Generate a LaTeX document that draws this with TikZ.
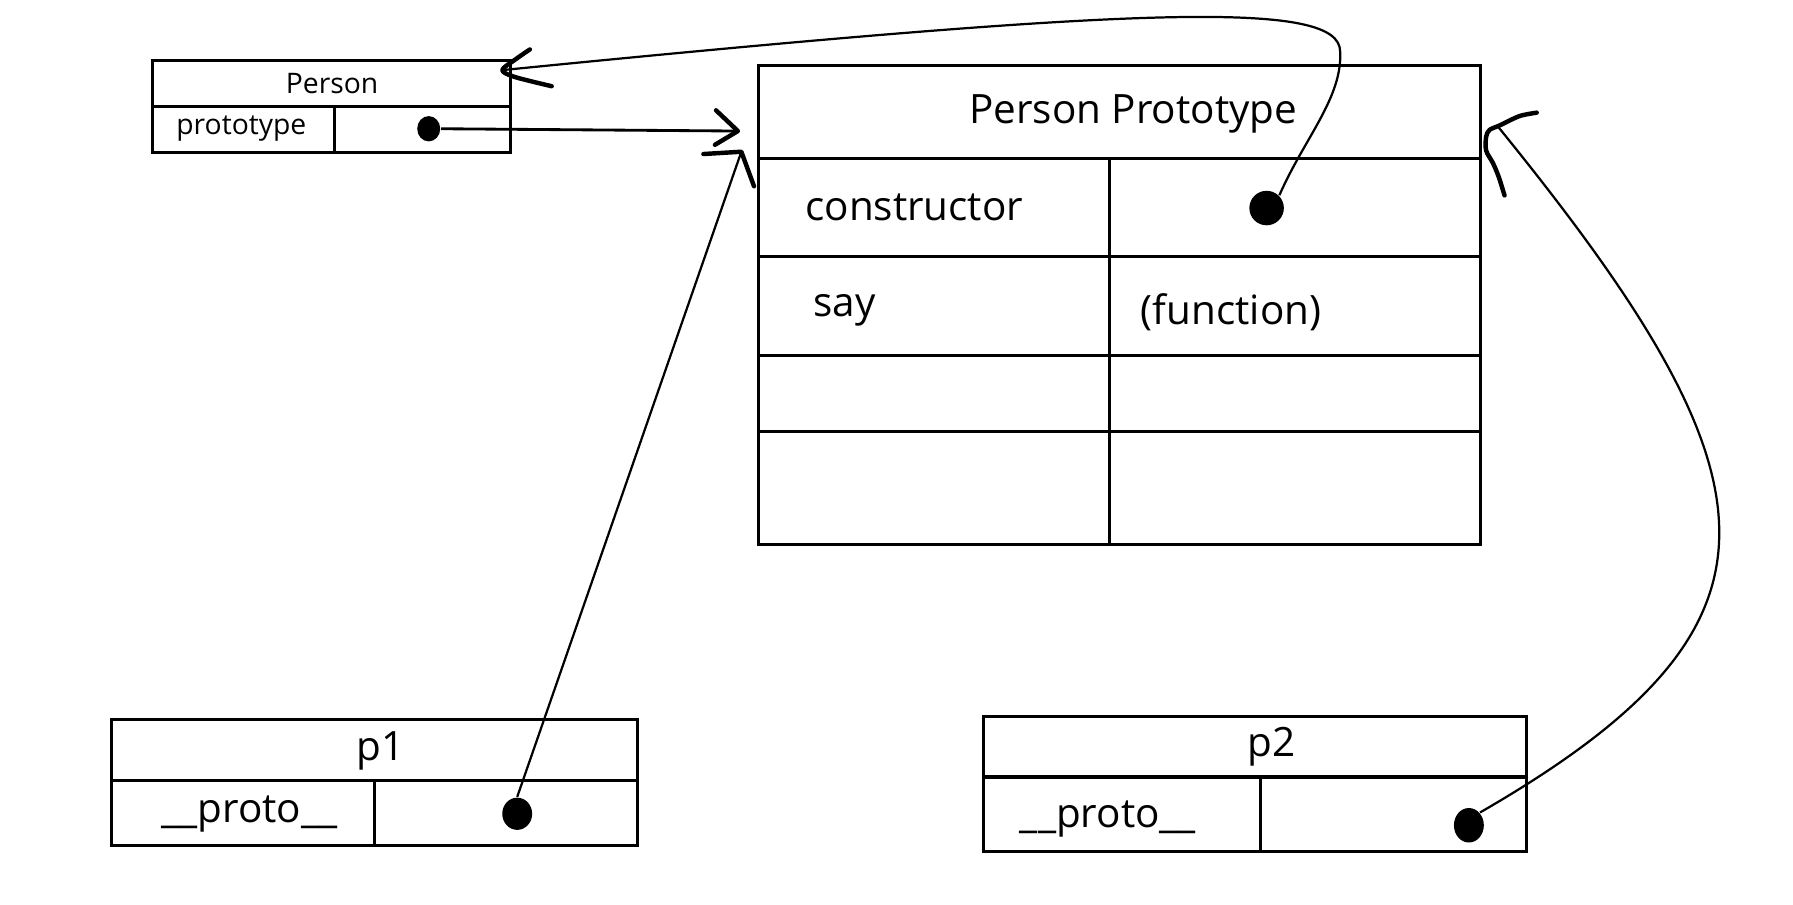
\documentclass[tikz,border=0pt]{standalone}
\usepackage{fontspec}
\setmainfont{Open Sans}
\usetikzlibrary{shapes.geometric}

\begin{document}
\begin{tikzpicture}[x=0.01cm,y=-0.01cm,
    box/.style={line width=0.75pt},
    wire/.style={line width=0.55pt},
    hand/.style={line width=1.1pt,line cap=round,line join=round},
    dot/.style={ellipse,fill,inner sep=0pt},
    lbl/.style={inner sep=0pt,font=\fontsize{10}{12}\selectfont},
    small/.style={inner sep=0pt,font=\fontsize{7}{8.4}\selectfont}]
    \useasboundingbox (0,0) rectangle (1560,787);

    % Person
    \draw[box] (133,53) rectangle (444,133);
    \draw[box] (133,93) -- (444,93);
    \draw[box] (291,93) -- (291,133);
    \draw (289,73) node[small] (person) {Person};
    \draw (210,112) node[small] (protokey) {prototype};
    \draw (373,112) node[dot,minimum width=0.2cm,minimum height=0.22cm] (pdot) {};

    % Person Prototype
    \draw[box] (660,57) rectangle (1288,474);
    \draw[box] (660,138) -- (1288,138);
    \draw[box] (660,223) -- (1288,223);
    \draw[box] (660,309) -- (1288,309);
    \draw[box] (660,375) -- (1288,375);
    \draw[box] (965,138) -- (965,474);
    \draw (986,99) node[lbl] (ptitle) {Person Prototype};
    \draw (700,180) node[lbl,anchor=west] (ckey) {constructor};
    \draw (707,270) node[lbl,anchor=west] (skey) {say};
    \draw (992,272) node[lbl,anchor=west] (sval) {(function)};
    \draw (1102,181) node[dot,minimum width=0.3cm,minimum height=0.3cm] (cdot) {};

    % p1
    \draw[box] (97,626) rectangle (555,736);
    \draw[box] (97,679) -- (555,679);
    \draw[box] (326,679) -- (326,736);
    \draw (331,653) node[lbl] (pone) {p1};
    \draw (217,708) node[lbl] (pone key) {\_\_proto\_\_};
    \draw (450,708) node[dot,minimum width=0.26cm,minimum height=0.28cm] (p1dot) {};

    % p2
    \draw[box] (856,623) rectangle (1328,741);
    \draw[box] (856,676) -- (1328,676);
    \draw[box] (1097,676) -- (1097,741);
    \draw (1106,650) node[lbl] (ptwo) {p2};
    \draw (964,713) node[lbl] (ptwo key) {\_\_proto\_\_};
    \draw (1278,718) node[dot,minimum width=0.26cm,minimum height=0.3cm] (p2dot) {};

    % arrow ends
    \coordinate (ptarrow) at (642,114);
    \coordinate (p1tip) at (645,132);
    \coordinate (p2tip) at (1304,111);
    \coordinate (ctip) at (437,61);

    % prototype -> Person Prototype
    \draw[wire,line width=0.7pt] (pdot.east) -- (ptarrow);
    \draw[hand] (623,96) -- (ptarrow) -- (622,126);

    % p1.__proto__
    \draw[wire] (p1dot.north) -- (p1tip);
    \draw[hand] (612,134) -- (p1tip) -- (656,162);

    % p2.__proto__
    \draw[wire] (p2dot.north east) .. controls (1570,544) and (1555,420) .. (p2tip);
    \draw[hand] plot[smooth] coordinates {(1337,98) (1322,101) (1305,109) (1296,113)
        (1293,119) (1293,131) (1299,142) (1304,154) (1309,170)};

    % constructor -> Person
    \draw[wire] (cdot.north east) .. controls (1135,120) and (1168,85) .. (1166,45)
        .. controls (1166,0) and (1000,5) .. (ctip);
    \draw[hand] plot[smooth] coordinates {(461,43) (448,52) (ctip) (448,67) (480,75)};
\end{tikzpicture}
\end{document}
